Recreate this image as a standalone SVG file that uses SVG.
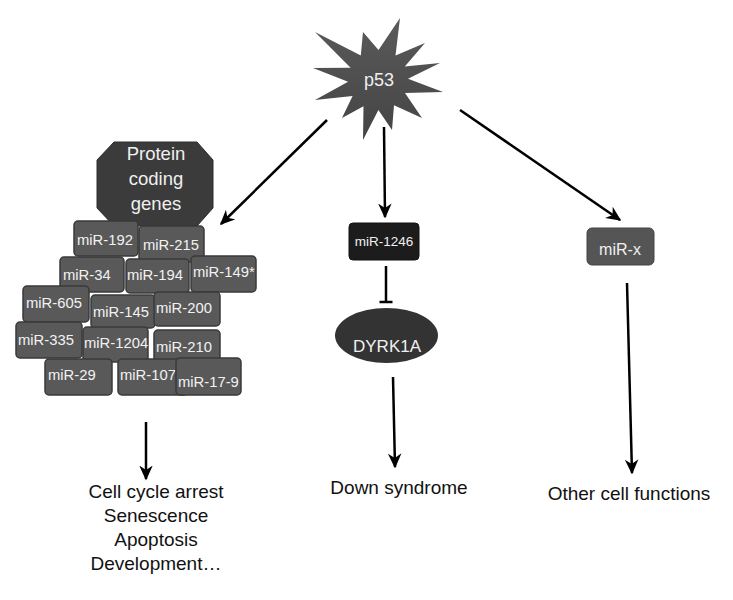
<svg xmlns="http://www.w3.org/2000/svg" width="733" height="600" viewBox="0 0 733 600">
<defs>
<marker id="arr" markerUnits="userSpaceOnUse" markerWidth="15" markerHeight="15" viewBox="0 0 10 10" refX="9" refY="5" orient="auto">
<path d="M0,0.5 L10,5 L0,9.5 L3,5 z" fill="#000"/>
</marker>
<linearGradient id="sg" x1="0" y1="0" x2="0" y2="1">
<stop offset="0" stop-color="#5a5a5a"/>
<stop offset="1" stop-color="#444"/>
</linearGradient>
</defs>
<style>
.box{fill:#595959;stroke:#3a3a3a;stroke-width:1.5}
.bt{font-family:"Liberation Sans",Arial,sans-serif;font-size:14.8px;fill:#f2f2f2}
.lbl{font-family:"Liberation Sans",Arial,sans-serif;font-size:19px;fill:#111;text-anchor:middle}
.wt{font-family:"Liberation Sans",Arial,sans-serif;fill:#f0f0f0;text-anchor:middle}
.ln{stroke:#000;stroke-width:2.5;fill:none}
</style>
<rect width="733" height="600" fill="#fff"/>

<g id="p53">
<polygon fill="url(#sg)" points="400,18 395.5,55.6 425,43 404.8,66.5 440,63 408,78.7 443,92 405,93 422,118 394,105.3 392,130 378.4,110 363,140 363.5,106.3 342,118 352.6,95.9 315,100 348.1,81.8 313,68 350.6,67.8 315,32 360.8,55.4 363,32 378.5,50"/>
<text class="wt" x="379" y="86" font-size="18">p53</text>
</g>

<g id="protein-coding-genes">
<polygon fill="#3b3b3b" stroke="#2e2e2e" stroke-width="1" points="114,142 197,142 213,160 213,208 197,226 114,226 97,208 97,160"/>
<text class="wt" x="156" y="160" font-size="18.5">Protein</text>
<text class="wt" x="156" y="185" font-size="18.5">coding</text>
<text class="wt" x="156" y="210" font-size="18.5">genes</text>
</g>

<g id="mir-cluster">
<g id="miR-192"><rect class="box" x="74" y="221" width="64" height="35" rx="4"/><text class="bt" x="77" y="245">miR-192</text></g>
<g id="miR-215"><rect class="box" x="139" y="226" width="65" height="36" rx="4"/><text class="bt" x="143" y="250">miR-215</text></g>
<g id="miR-34"><rect class="box" x="60" y="257" width="64" height="35" rx="4"/><text class="bt" x="63" y="280">miR-34</text></g>
<g id="miR-194"><rect class="box" x="126" y="259" width="63" height="34" rx="4"/><text class="bt" x="127" y="280">miR-194</text></g>
<g id="miR-149"><rect class="box" x="191" y="256" width="65" height="36" rx="4"/><text class="bt" x="193" y="277">miR-149*</text></g>
<g id="miR-605"><rect class="box" x="23" y="286" width="66" height="36" rx="4"/><text class="bt" x="26" y="308">miR-605</text></g>
<g id="miR-145"><rect class="box" x="91" y="295" width="64" height="33" rx="4"/><text class="bt" x="93" y="317">miR-145</text></g>
<g id="miR-200"><rect class="box" x="154" y="292" width="66" height="34" rx="4"/><text class="bt" x="156" y="313">miR-200</text></g>
<g id="miR-335"><rect class="box" x="16" y="322" width="66" height="36" rx="4"/><text class="bt" x="18" y="345">miR-335</text></g>
<g id="miR-1204"><rect class="box" x="83" y="327" width="65" height="35" rx="4"/><text class="bt" x="84" y="348">miR-1204</text></g>
<g id="miR-210"><rect class="box" x="154" y="330" width="66" height="35" rx="4"/><text class="bt" x="156" y="352">miR-210</text></g>
<g id="miR-29"><rect class="box" x="45" y="359" width="67" height="36" rx="4"/><text class="bt" x="48" y="380">miR-29</text></g>
<g id="miR-107"><rect class="box" x="118" y="359" width="70" height="36" rx="4"/><text class="bt" x="120" y="380">miR-107</text></g>
<g id="miR-17-9"><rect class="box" x="176" y="358" width="65" height="37" rx="4"/><text class="bt" x="178" y="387">miR-17-9</text></g>
</g>

<g id="miR-1246">
<rect x="349" y="223" width="70" height="37" rx="4" fill="#1c1c1c" stroke="#111" stroke-width="1"/>
<text class="wt" x="384" y="246" font-size="13.5">miR-1246</text>
</g>

<g id="DYRK1A">
<ellipse cx="386.5" cy="335.5" rx="51.5" ry="27.5" fill="#333"/>
<text class="wt" x="387" y="352" font-size="17">DYRK1A</text>
</g>

<g id="miR-x">
<rect x="587" y="228" width="67" height="37" rx="5" fill="#555" stroke="#444" stroke-width="1"/>
<text class="wt" x="620" y="255" font-size="16">miR-x</text>
</g>

<g id="outcomes">
<text class="lbl" x="156" y="498">Cell cycle arrest</text>
<text class="lbl" x="156" y="522">Senescence</text>
<text class="lbl" x="156" y="546">Apoptosis</text>
<text class="lbl" x="156" y="570">Development…</text>
<text class="lbl" x="399" y="494">Down syndrome</text>
<text class="lbl" x="629" y="500">Other cell functions</text>
</g>

<g id="connectors">
<line class="ln" x1="327" y1="120" x2="221" y2="224" marker-end="url(#arr)"/>
<line class="ln" x1="384" y1="127" x2="385" y2="217" marker-end="url(#arr)"/>
<line class="ln" x1="460" y1="110" x2="620" y2="220" marker-end="url(#arr)"/>
<line class="ln" x1="386" y1="266" x2="386" y2="302"/>
<line class="ln" x1="379.5" y1="302" x2="392.5" y2="302"/>
<line class="ln" x1="393" y1="377" x2="395" y2="467" marker-end="url(#arr)"/>
<line class="ln" x1="627" y1="283" x2="632" y2="473" marker-end="url(#arr)"/>
<line class="ln" x1="146" y1="422" x2="146" y2="479" marker-end="url(#arr)"/>
</g>
</svg>
